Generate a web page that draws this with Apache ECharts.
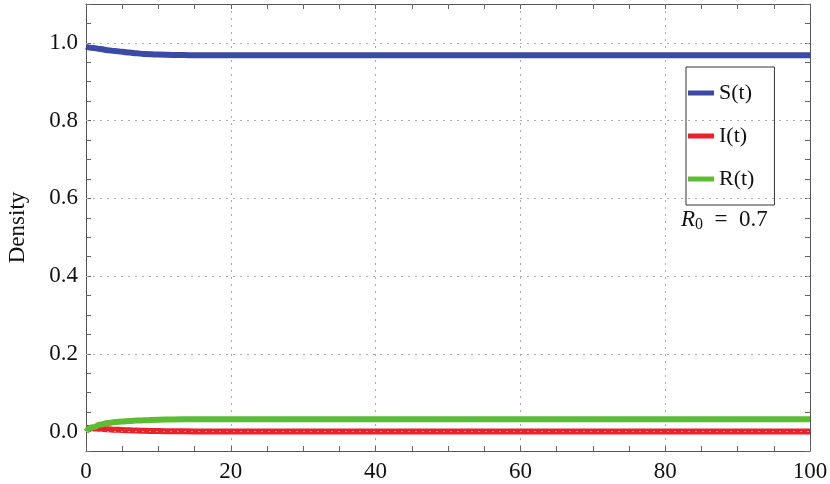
<!DOCTYPE html>
<html>
<head>
<meta charset="utf-8">
<script src="https://cdn.jsdelivr.net/npm/echarts@6/dist/echarts.min.js"></script>
<style>
  html, body { margin: 0; padding: 0; background: #fff; }
  #chart { width: 830px; height: 484px; }
</style>
</head>
<body>
<div id="chart"></div>
<script>
// time points and densities
var tVals = [0, 1, 2, 3, 4, 5, 6, 7, 8, 10, 12, 15, 20, 30, 40, 50, 60, 70, 80, 90, 100];
var sVals = [0.99, 0.987, 0.984, 0.981, 0.979, 0.977, 0.975, 0.973, 0.9715, 0.9698, 0.969, 0.968, 0.968, 0.968, 0.968, 0.968, 0.968, 0.968, 0.968, 0.968, 0.968];
var iVals = [0.01, 0.0085, 0.007, 0.0058, 0.0048, 0.004, 0.0033, 0.0026, 0.002, 0.0012, 0.0007, 0.0003, 0.0001, 0, 0, 0, 0, 0, 0, 0, 0];
var rVals = [0, 0.011, 0.018, 0.022, 0.0245, 0.026, 0.0275, 0.0283, 0.029, 0.0305, 0.0313, 0.0318, 0.032, 0.032, 0.032, 0.032, 0.032, 0.032, 0.032, 0.032, 0.032];

var seriesNames = ["S(t)", "I(t)", "R(t)"];
var seriesColors = ["#3a4aa6", "#e8212b", "#5cbd32"];
var yGridVals = [0, 0.2, 0.4, 0.6, 0.8, 1.0];

var font = "'Liberation Serif', 'Times New Roman', serif";

function pairs(vals) {
  return tVals.map(function (t, i) { return [t, vals[i]]; });
}

// show labels only at the 0.2 steps
function yLabel(v) {
  var k = v / 0.2;
  if (v < -1e-9 || v > 1.0001 || Math.abs(k - Math.round(k)) > 1e-6) return "";
  return v.toFixed(1);
}

var frame = { show: true, onZero: false, lineStyle: { color: "#555", width: 1 } };
var tick = { show: true, inside: true, length: 5, lineStyle: { color: "#666" } };
var minor = { show: true, splitNumber: 4, length: 5, lineStyle: { color: "#666" } };
var grid = { show: true, lineStyle: { color: "#aaa", type: [2, 5], width: 1 } };

function curve(idx, vals) {
  return {
    name: seriesNames[idx], type: "line", data: pairs(vals),
    smooth: 0.5, smoothMonotone: "x", showSymbol: false,
    lineStyle: { width: 6, color: seriesColors[idx] },
    itemStyle: { color: seriesColors[idx] }, z: 3
  };
}

var chart = echarts.init(document.getElementById("chart"));

var sSeries = curve(0, sVals);
sSeries.markLine = {
  silent: true, symbol: "none", label: { show: false },
  lineStyle: { color: "#aaa", type: [2, 5], width: 1 },
  data: yGridVals.map(function (v) { return { yAxis: v }; })
};

var option = {
  animation: false,
  grid: { left: 86, right: 20, top: 4, bottom: 33, outerBoundsMode: "none", containLabel: false },
  xAxis: [
    {
      type: "value", min: 0, max: 100, interval: 20, position: "bottom",
      axisLine: frame, axisTick: tick, minorTick: minor,
      splitLine: grid, minorSplitLine: { show: false },
      axisLabel: { color: "#111", fontFamily: font, fontSize: 23, margin: 9 }
    },
    {
      type: "value", min: 0, max: 100, interval: 20, position: "top",
      axisLine: frame, axisTick: tick, minorTick: minor,
      splitLine: { show: false }, axisLabel: { show: false }
    }
  ],
  yAxis: [
    {
      type: "value", min: -0.05, max: 1.1, interval: 0.05, position: "left",
      name: "Density", nameLocation: "middle", nameGap: 57, nameRotate: 90,
      nameTextStyle: { color: "#111", fontFamily: font, fontSize: 23 },
      axisLine: frame, axisTick: tick, splitLine: { show: false },
      axisLabel: { color: "#111", fontFamily: font, fontSize: 23, margin: 8, formatter: yLabel }
    },
    {
      type: "value", min: -0.05, max: 1.1, interval: 0.05, position: "right",
      axisLine: frame, axisTick: tick, splitLine: { show: false },
      axisLabel: { show: false }
    }
  ],
  legend: {
    orient: "vertical", left: 686, top: 67,
    padding: [15, 20, 15, 2], itemGap: 21,
    itemWidth: 26, itemHeight: 5, icon: "rect",
    backgroundColor: "#fff", borderColor: "#333", borderWidth: 1,
    textStyle: { color: "#111", fontFamily: font, fontSize: 22, lineHeight: 22 },
    data: seriesNames
  },
  graphic: [
    {
      type: "text", left: 681, top: 208,
      style: {
        text: "{i|R}{s|0}{n|  =  0.7}",
        rich: {
          i: { fontFamily: font, fontStyle: "italic", fontSize: 23, fill: "#111" },
          s: { fontFamily: font, fontSize: 16, fill: "#111", verticalAlign: "bottom", padding: [10, 0, 0, 0] },
          n: { fontFamily: font, fontSize: 23, fill: "#111" }
        }
      }
    }
  ],
  series: [sSeries, curve(1, iVals), curve(2, rVals)]
};

chart.setOption(option);
window.addEventListener("resize", function () {
  chart.resize();
});
</script>
</body>
</html>
